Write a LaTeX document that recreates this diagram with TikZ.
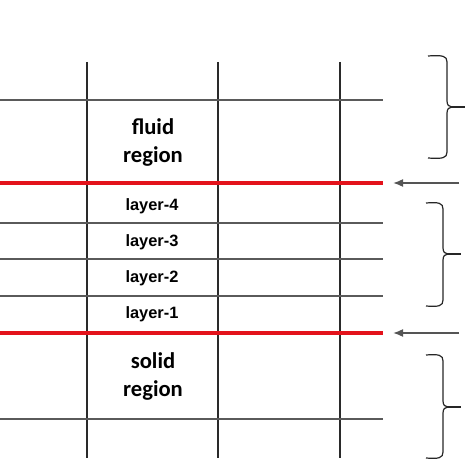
\documentclass[tikz,border=0pt]{standalone}
\usepackage{fontspec}
\setmainfont{Carlito}
\newfontfamily\arialbold{Liberation Sans}[BoldFont={* Bold}]
\usetikzlibrary{arrows.meta}
\definecolor{gridblack}{HTML}{2A2A2A}
\definecolor{gridgray}{HTML}{5A5A5A}
\definecolor{ifred}{HTML}{E3121B}
\definecolor{arrowgray}{HTML}{555555}
\tikzset{
  vline/.style={draw=gridblack, line width=0.8pt},
  hline/.style={draw=gridgray, line width=0.9pt},
  redline/.style={draw=ifred, line width=2pt},
  regionlabel/.style={font=\fontsize{11.3}{14}\selectfont\bfseries, align=center, inner sep=0pt},
  layerlabel/.style={font=\arialbold\fontsize{8.2}{10}\selectfont\bfseries, inner sep=0pt},
  bracestyle/.style={draw=black!85, line width=0.6pt},
  pointer/.style={draw=arrowgray, line width=0.8pt, -{Latex[length=5pt,width=4pt]}, color=arrowgray},
}
\begin{document}
\begin{tikzpicture}[x=0.5pt,y=-0.5pt]
\useasboundingbox (0,0) rectangle (474,474);
% vertical grid lines
\foreach \xx in {87,218,340} \draw[vline] (\xx,62) -- (\xx,458);
% horizontal grid lines
\foreach \yy in {100,223,259,296,419} \draw[hline] (0,\yy) -- (383,\yy);
% interface lines
\draw[redline] (0,183) -- (383,183);
\draw[redline] (0,333) -- (383,333);
% labels
\node[regionlabel] (fluid) at (153,142) {fluid\\region};
\node[layerlabel] (l4) at (152,206) {layer-4};
\node[layerlabel] (l3) at (152,242) {layer-3};
\node[layerlabel] (l2) at (152,278) {layer-2};
\node[layerlabel] (l1) at (152,314) {layer-1};
\node[regionlabel] (solid) at (153,376) {solid\\region};
% arrows
\coordinate (a1s) at (459,183); \coordinate (a1e) at (393,183);
\coordinate (a2s) at (459,333); \coordinate (a2e) at (393,333);
\draw[pointer] (a1s) -- (a1e);
\draw[pointer] (a2s) -- (a2e);
% braces
\foreach \top/\bot/\mid/\lx/\sx/\tx in {56/158/107/428/447/465, 203/306/254/426/443/461, 355/458/407/426/443/461}{
  \draw[bracestyle] (\lx,\top) .. controls (\sx-4,\top-1) and (\sx,\top) .. (\sx,\top+6)
     -- (\sx,\mid-6) .. controls (\sx,\mid-2) and (\sx+2,\mid) .. (\sx+5,\mid)
     .. controls (\sx+2,\mid) and (\sx,\mid+2) .. (\sx,\mid+6)
     -- (\sx,\bot-6) .. controls (\sx,\bot) and (\sx-4,\bot+1) .. (\lx,\bot);
  \draw[bracestyle, line width=0.9pt] (\sx+4,\mid) -- (\tx,\mid);
}
\end{tikzpicture}
\end{document}
